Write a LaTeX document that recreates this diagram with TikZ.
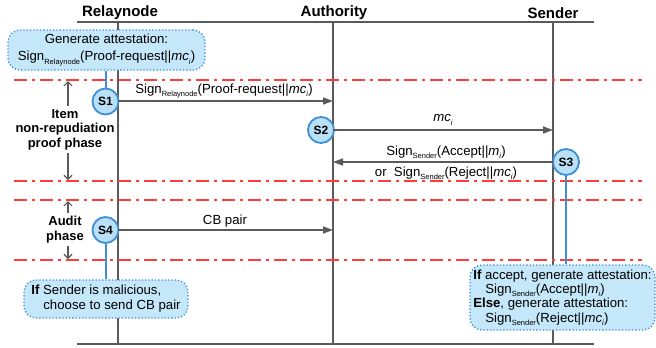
\documentclass[tikz,border=0pt]{standalone}
\usepackage{fontspec}
\setmainfont{Liberation Sans}
\usetikzlibrary{arrows.meta}
\definecolor{lifegray}{HTML}{5A5A5A}
\definecolor{phasered}{HTML}{FF3B3B}
\definecolor{boxfill}{HTML}{C5E7FA}
\definecolor{boxedge}{HTML}{3E8FD6}
\definecolor{circfill}{HTML}{B9E0F7}
\newcommand\lowsub[1]{\raisebox{-0.45ex}{\fontsize{7.5}{8}\selectfont #1}}
\newcommand\mci{\textit{mc}\lowsub{\textit{i}}}
\newcommand\mmi{\textit{m}\lowsub{\textit{i}}}
\pgfdeclarelayer{bg}
\pgfsetlayers{bg,main}
\begin{document}
\begin{tikzpicture}[x=1pt,y=-1pt,font=\fontsize{13.2}{15}\selectfont,
  lifeline/.style={draw=lifegray,line width=1.5pt},
  frameline/.style={draw=lifegray,line width=2pt},
  phaseline/.style={draw=phasered,line width=2pt,dash pattern=on 13pt off 5pt on 3pt off 5pt},
  msg/.style={draw=lifegray,line width=1.5pt,-{Triangle[length=10pt,width=7pt]}},
  stepcirc/.style={circle,draw=boxedge,fill=circfill,line width=1.8pt,minimum size=26pt,inner sep=0pt,font=\fontsize{12}{12}\selectfont\bfseries},
  notebox/.style={draw=boxedge,fill=boxfill,dotted,line width=1.3pt,rounded corners=12pt,inner sep=0pt},
  bluelink/.style={draw=boxedge,line width=2pt},
  header/.style={font=\fontsize{15}{17}\selectfont\bfseries},
  phaselabel/.style={font=\fontsize{13}{14.5}\selectfont\bfseries,align=center},
  phasearrow/.style={draw=lifegray,line width=1.2pt,-{Straight Barb[length=4pt,width=8pt]}}]
\useasboundingbox (0,0) rectangle (656,348);

% coordinates
\coordinate (tl) at (77,22);  \coordinate (tr) at (594,22);
\coordinate (bl) at (77,344); \coordinate (br) at (594,344);
\coordinate (rtop) at (118,22); \coordinate (rbot) at (118,344);
\coordinate (atop) at (333,22); \coordinate (abot) at (333,344);
\coordinate (stop) at (553,22); \coordinate (sbot) at (553,344);
\coordinate (p1l) at (14,80);  \coordinate (p1r) at (642,80);
\coordinate (p2l) at (14,181); \coordinate (p2r) at (642,181);
\coordinate (p3l) at (14,200); \coordinate (p3r) at (642,200);
\coordinate (p4l) at (14,260); \coordinate (p4r) at (642,260);
\coordinate (r1) at (118,101); \coordinate (a1) at (333,101);
\coordinate (a2) at (333,130); \coordinate (s2) at (553,130);
\coordinate (s3) at (553,162); \coordinate (a3) at (333,162);
\coordinate (r4) at (118,230); \coordinate (a4) at (333,230);
\coordinate (ia1) at (68,81);  \coordinate (ia2) at (68,180);
\coordinate (aa1) at (68,201); \coordinate (aa2) at (68,259);

% headers
\node[header] (hR) at (120,13) {Relaynode};
\node[header] (hA) at (334,13) {Authority};
\node[header] (hS) at (553,13) {Sender};

% step circles
\node[stepcirc] (S1) at (105.5,101.5) {S1};
\node[stepcirc] (S2) at (321,130) {S2};
\node[stepcirc] (S3) at (566,162) {S3};
\node[stepcirc] (S4) at (105.5,230) {S4};

% note boxes
\node[notebox,minimum width=197pt,minimum height=40pt,align=center,
      font=\fontsize{13.2}{17}\selectfont] (nTop) at (106.5,50)
  {Generate attestation:\\Sign\lowsub{Relaynode}(Proof-request||\mci)};
\node[notebox,minimum width=164pt,minimum height=38pt,align=left,
      font=\fontsize{13.2}{15}\selectfont] (nLeft) at (106,299)
  {\textbf{If} Sender is malicious,\\\hspace*{12pt}choose to send CB pair};
\node[notebox,minimum width=185pt,minimum height=65pt,align=left,
      font=\fontsize{13.2}{14.3}\selectfont] (nRight) at (562.5,297.5)
  {\textbf{If} accept, generate attestation:\\
   \hspace*{12pt}Sign\lowsub{Sender}(Accept||\mmi)\\
   \textbf{Else}, generate attestation:\\
   \hspace*{12pt}Sign\lowsub{Sender}(Reject||\mci)};

% phase labels
\node[phaselabel] (lItem) at (65,129.5) {Item\\non-repudiation\\proof phase};
\node[phaselabel] (lAudit) at (65,229.5) {Audit\\phase};

\begin{pgfonlayer}{bg}
  \draw[frameline] (tl) -- (tr);
  \draw[frameline] (bl) -- (br);
  \draw[lifeline] (rtop) -- (rbot);
  \draw[lifeline] (atop) -- (abot);
  \draw[lifeline] (stop) -- (sbot);
  \draw[phaseline] (p1l) -- (p1r);
  \draw[phaseline] (p2l) -- (p2r);
  \draw[phaseline] (p3l) -- (p3r);
  \draw[phaseline] (p4l) -- (p4r);
  \draw[bluelink] (nTop.south -| S1) -- (S1);
  \draw[bluelink] (S3) -- (nRight.north -| S3);
  \draw[bluelink] (S4) -- (nLeft.north -| S4);
\end{pgfonlayer}

% messages
\draw[msg] (r1) -- (a1);
\node (m1) at (224,91) {Sign\lowsub{Relaynode}(Proof-request||\mci)};
\draw[msg] (a2) -- (s2);
\node (m2) at (443,120) {\mci};
\draw[msg] (s3) -- (a3);
\node (m3a) at (446,152) {Sign\lowsub{Sender}(Accept||\mmi)};
\node (m3b) at (446,173) {or\ \ Sign\lowsub{Sender}(Reject||\mci)};
\draw[msg] (r4) -- (a4);
\node (m4) at (225,221) {CB pair};

% phase arrows
\draw[phasearrow] (lItem.north -| ia1) -- (ia1);
\draw[phasearrow] (lItem.south -| ia2) -- (ia2);
\draw[phasearrow] (lAudit.north -| aa1) -- (aa1);
\draw[phasearrow] (lAudit.south -| aa2) -- (aa2);
\end{tikzpicture}
\end{document}
